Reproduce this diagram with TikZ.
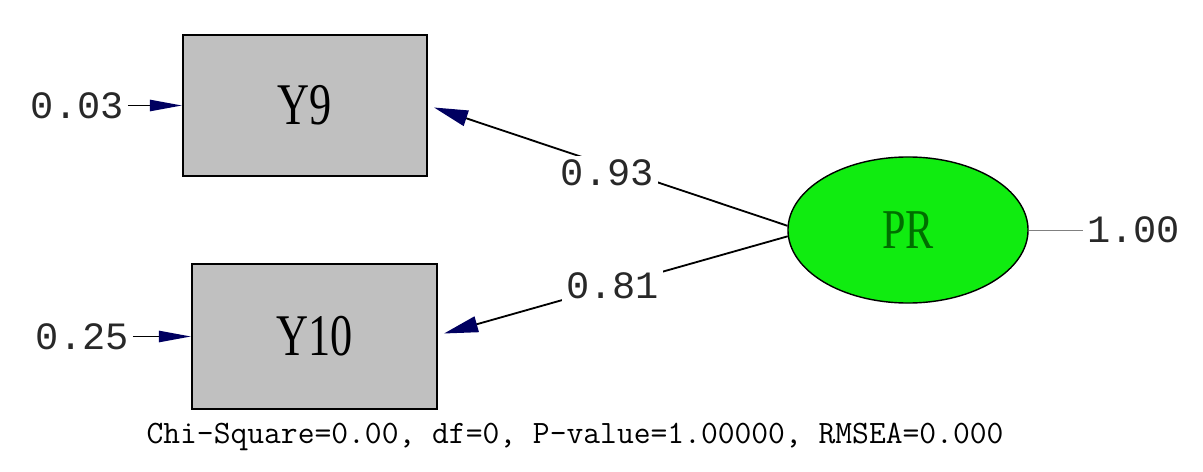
\documentclass[tikz,border=0pt]{standalone}
\usepackage{fontspec}
\usepackage{graphicx}
\usetikzlibrary{arrows.meta, positioning, shapes.geometric}
\newfontfamily\numfont{Liberation Mono}
\newfontfamily\labfont{Liberation Serif}
\definecolor{boxgray}{RGB}{192,192,192}
\definecolor{latgreen}{RGB}{16,236,16}
\definecolor{txtgreen}{RGB}{0,110,0}
\definecolor{tipnavy}{RGB}{0,0,96}
\definecolor{numgray}{RGB}{40,40,40}
\newcommand{\narrow}[1]{\scalebox{0.75}[1]{#1}}

\begin{document}
\begin{tikzpicture}[x=0.025cm, y=-0.025cm,
    obs/.style={draw, line width=1.4pt, fill=boxgray, inner sep=0pt, font=\fontsize{42}{42}\labfont},
    lat/.style={ellipse, draw, line width=1pt, fill=latgreen, inner sep=0pt,
      minimum width=6cm, minimum height=3.65cm, text=txtgreen, font=\fontsize{40}{40}\labfont},
    num/.style={inner sep=0.1cm, text=numgray, font=\fontsize{27.5}{27.5}\numfont},
    load/.style={line width=1.3pt, -{Triangle[length=0.85cm, width=0.4cm, color=tipnavy]}},
    err/.style={line width=1.3pt, -{Triangle[length=0.8cm, width=0.28cm, color=tipnavy]}}]
  \useasboundingbox (0,0) rectangle (1203,472);
  % measured variables and the latent one
  \node[obs, minimum width=6.1cm, minimum height=3.525cm] (y9) at (305,105.5) {\narrow{Y9}};
  \node[obs, minimum width=6.125cm, minimum height=3.625cm] (y10) at (314.5,336.5) {\narrow{Y10}};
  \node[lat] (pr) at (908,230) {\narrow{PR}};
  % error variances
  \node[num, left=1.35cm of y9] (e9) {0.03};
  \node[num, left=1.45cm of y10] (e10) {0.25};
  \node[num, right=1.35cm of pr] (u) {1.00};
  \node[font=\fontsize{23.2}{23.2}\ttfamily] (stats) at (575,437) {Chi-Square=0.00, df=0, P-value=1.00000, RMSEA=0.000};
  % loadings
  \draw[load] (pr.178) -- node[num, fill=white, pos=0.51, yshift=-0.18cm] {0.93} ([shift={(6,2)}]y9.east);
  \draw[load] (pr.183) -- node[num, fill=white, pos=0.51] {0.81} ([shift={(6,-3)}]y10.east);
  \draw[err] (e9) -- (y9);
  \draw[err] (e10) -- (y10);
  \draw[gray, line width=0.6pt] (pr) -- (u);
\end{tikzpicture}
\end{document}
